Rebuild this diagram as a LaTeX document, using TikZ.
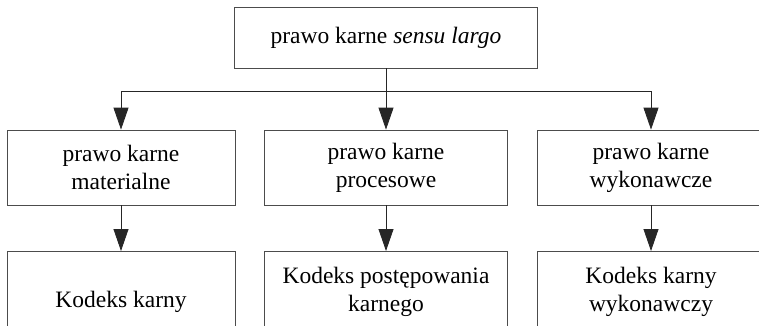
\documentclass[tikz,border=0pt]{standalone}
\usepackage{fontspec}
\setmainfont{Liberation Serif}
\usetikzlibrary{arrows.meta}

\tikzset{
    blok/.style={draw=black!70, line width=0.8pt, align=center,
        font=\rmfamily\fontsize{23.5}{28}\selectfont, inner sep=0pt},
    strz/.style={draw=black!85, line width=0.8pt,
        -{Triangle[width=15pt,length=22pt]}}
}

\begin{document}
\begin{tikzpicture}[x=1pt,y=-1pt]
    \useasboundingbox (0,0) rectangle (759,325);

    % gora
    \node[blok, minimum width=303pt, minimum height=61pt] (prawo) at (386,37.5)
        {prawo karne \textit{sensu largo}};

    % srodkowy rzad
    \node[blok, minimum width=228pt, minimum height=75pt] (mat) at (121,167.5)
        {prawo karne\\materialne};
    \node[blok, minimum width=243pt, minimum height=75pt] (proc) at (386,167.5)
        {prawo karne\\procesowe};
    \node[blok, minimum width=228pt, minimum height=75pt] (wyk) at (651,167.5)
        {prawo karne\\wykonawcze};

    % dolny rzad (ucinany przez krawedz)
    \node[blok, anchor=north, minimum width=228pt, minimum height=100pt] (kk) at (121,251)
        {Kodeks karny};
    \node[blok, anchor=north, minimum width=243pt, minimum height=80pt] (kpk) at (386,251)
        {Kodeks postępowania\\karnego};
    \node[blok, anchor=north, minimum width=228pt, minimum height=80pt] (kkw) at (651,251)
        {Kodeks karny\\wykonawczy};

    % rozgalezienie
    \path (prawo.south) -- (proc.north) coordinate[pos=0.38] (rozg);
    \draw[strz] (prawo.south) -- (proc.north);
    \draw[strz] (rozg) -| (mat.north);
    \draw[strz] (rozg) -| (wyk.north);

    \draw[strz] (mat) -- (kk);
    \draw[strz] (proc) -- (kpk);
    \draw[strz] (wyk) -- (kkw);
\end{tikzpicture}
\end{document}
